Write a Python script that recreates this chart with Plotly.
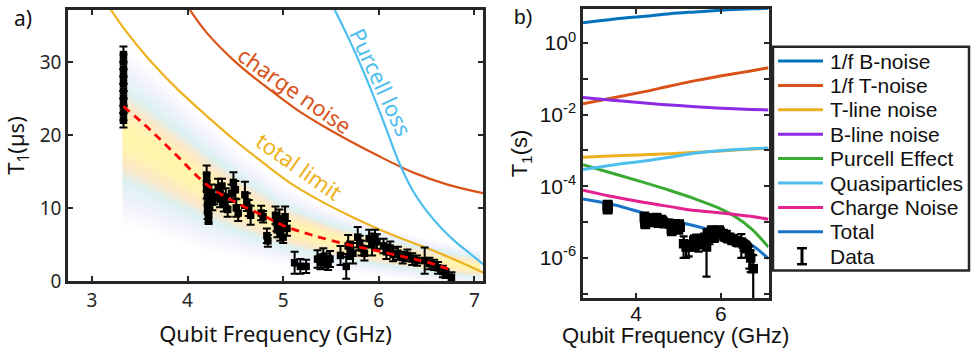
import numpy as np
import plotly.graph_objects as go

W, H = 973, 348

# ---------------- Panel a : measured T1 (microseconds) ----------------
freq_ghz = [
    3.33, 3.33, 3.33, 3.33, 3.33, 3.33, 3.33, 3.33, 3.33, 3.33,
    4.20, 4.20, 4.20, 4.21, 4.21, 4.21, 4.22, 4.22, 4.25, 4.26, 4.28,
    4.32, 4.34, 4.36, 4.38, 4.40, 4.42,
    4.46, 4.48, 4.50, 4.51, 4.53,
    4.60, 4.62, 4.64, 4.66,
    4.77, 4.79, 4.83, 4.84,
    4.92, 4.93, 4.94, 4.96, 4.97, 4.99, 5.00, 5.02, 5.04,
    5.12, 5.18, 5.24,
    5.36, 5.39, 5.42, 5.44, 5.47, 5.49,
    5.60, 5.66, 5.68, 5.70, 5.73,
    5.78, 5.80, 5.82, 5.85,
    5.90, 5.93, 5.96, 5.98,
    6.05, 6.08, 6.12, 6.15,
    6.20, 6.25, 6.30, 6.35, 6.40,
    6.48, 6.53, 6.58, 6.62, 6.67, 6.70, 6.76]
t1_us = [
    22.0, 23.0, 24.0, 25.0, 26.0, 27.0, 28.0, 29.0, 30.0, 31.0,
    14.5, 13.5, 12.5, 11.5, 10.5, 9.5, 9.0, 8.5, 12.0, 10.8, 11.5,
    12.8, 11.2, 13.0, 10.5, 11.5, 9.8,
    12.0, 13.5, 12.5, 10.0, 9.3,
    11.8, 10.8, 10.0, 9.0,
    9.3, 8.8, 6.2, 5.5,
    9.0, 8.0, 7.0, 8.5, 6.5, 7.5, 6.0, 8.8, 7.2,
    2.5, 2.0, 2.0,
    3.0, 2.6, 3.3, 2.8, 2.5, 3.0,
    3.5, 2.0, 4.8, 4.2, 3.8,
    6.0, 5.2, 4.5, 3.8,
    5.8, 5.0, 6.0, 5.4,
    4.8, 4.0, 4.5, 3.6,
    3.8, 3.2, 3.5, 3.0, 2.8,
    2.8, 2.4, 2.2, 1.8, 1.3, 1.0, 0.5]
t1_err_us = [
    1.0, 1.0, 1.0, 1.0, 1.0, 1.0, 1.0, 1.0, 1.0, 1.1,
    1.3, 1.2, 1.2, 1.2, 1.1, 1.0, 1.0, 0.7, 1.2, 1.1, 1.0,
    1.2, 1.1, 1.0, 1.0, 1.2, 1.0,
    1.2, 1.4, 1.2, 1.2, 1.1,
    1.8, 1.2, 1.1, 1.3,
    1.0, 0.8, 1.0, 0.8,
    1.2, 1.2, 1.0, 1.3, 1.0, 1.2, 0.8, 1.4, 1.0,
    1.5, 1.0, 0.9,
    1.2, 1.0, 1.2, 1.0, 1.0, 1.1,
    1.3, 1.7, 1.5, 1.2, 1.4,
    1.4, 1.0, 1.0, 1.0,
    1.2, 1.5, 1.0, 1.0,
    1.0, 1.0, 0.9, 0.9,
    0.9, 0.8, 0.8, 0.8, 0.7,
    1.8, 0.8, 0.7, 0.8, 0.8, 0.6, 0.7]

# fit (red dashed)
fit_freq = [3.33, 3.6, 3.9, 4.2, 4.5, 4.8, 5.0, 5.3, 5.7, 6.0, 6.3, 6.5, 6.76]
fit_t1 = [23.9, 20.8, 17.0, 13.2, 10.8, 8.9, 7.6, 6.3, 4.9, 4.1, 3.2, 2.6, 1.5]

# limits in panel a
total_freq = [3.18, 3.35, 3.58, 3.9, 4.2, 4.5, 4.8, 5.1, 5.4, 5.7, 6.0, 6.3, 6.6, 6.85, 7.1]
total_t1 = [37.5, 34.3, 30.6, 26.2, 22.6, 19.2, 16.1, 13.2, 10.9, 8.9, 7.1, 5.5, 4.0, 2.6, 1.1]
charge_freq = [4.0, 4.2, 4.5, 4.8, 5.15, 5.5, 6.0, 6.37, 6.72, 7.1]
charge_t1 = [37.6, 34.0, 30.0, 26.8, 23.4, 20.6, 17.1, 14.8, 13.2, 12.0]
purcell_freq = [5.50, 5.54, 5.7, 5.89, 6.05, 6.2, 6.35, 6.5, 6.65, 6.8, 6.95, 7.1]
purcell_t1 = [38.2, 37.1, 32.8, 27.1, 21.8, 16.6, 12.5, 9.6, 7.3, 5.4, 3.8, 2.2]

# shaded confidence band (centre and half width)
band_freq = [3.33, 3.6, 3.9, 4.2, 4.5, 5.0, 5.5, 6.0, 6.5, 7.05]
band_center = [20.0, 18.0, 15.5, 13.0, 10.8, 7.6, 5.6, 4.1, 2.9, 1.9]
band_halfwidth = [12.5, 11.5, 10.3, 9.0, 7.5, 5.5, 4.3, 3.5, 3.0, 2.6]

# ---------------- Panel b : noise channel limits (seconds) ----------------
b_freq = [2.75, 3.5, 4.2, 4.8, 5.4, 5.9, 6.3, 6.7, 7.12]
b_names = ["1/f B-noise", "1/f T-noise", "T-line noise", "B-line noise",
           "Purcell Effect", "Quasiparticles", "Charge Noise", "Total"]
b_colors = ["#0072BD", "#D95319", "#EDB120", "#8A2BE2",
            "#3BAA34", "#4DBEEE", "#E3218F", "#1A74C8"]
b_values = [
    [3.7, 4.7, 5.6, 6.6, 7.4, 8.1, 8.6, 9.0, 9.3],
    [0.020, 0.030, 0.044, 0.063, 0.089, 0.115, 0.138, 0.166, 0.204],
    [6.5e-4, 7.1e-4, 7.6e-4, 8.1e-4, 8.9e-4, 9.5e-4, 1.02e-3, 1.08e-3, 1.15e-3],
    [0.030, 0.025, 0.021, 0.0186, 0.0166, 0.0153, 0.0146, 0.0140, 0.0135],
    [4.0e-4, 2.2e-4, 1.26e-4, 7.6e-5, 4.4e-5, 2.6e-5, 1.5e-5, 6.8e-6, 2.0e-6],
    [2.95e-4, 4.0e-4, 5.1e-4, 6.5e-4, 8.5e-4, 9.7e-4, 1.05e-3, 1.11e-3, 1.17e-3],
    [7.8e-5, 5.0e-5, 3.5e-5, 2.7e-5, 2.1e-5, 1.85e-5, 1.65e-5, 1.45e-5, 1.2e-5],
    [4.4e-5, 3.0e-5, 1.75e-5, 1.15e-5, 7.8e-6, 5.5e-6, 4.0e-6, 2.4e-6, 9.5e-7],
]

a_xticks = [3, 4, 5, 6, 7]
a_yticks = [0, 10, 20, 30]
b_xticks = [4, 6]
b_yticks = [1e-7, 1e-6, 1e-5, 1e-4, 1e-3, 1e-2, 1e-1, 1e0]
b_yticktext = ["", "10<sup>-6</sup>", "", "10<sup>-4</sup>", "",
               "10<sup>-2</sup>", "", "10<sup>0</sup>"]
legend_labels = b_names + ["Data"]

AXC = "#262626"
FA = "Noto Sans, Open Sans, sans-serif"
FB = "Liberation Sans, Arial, sans-serif"

fig = go.Figure()

# band as heatmap
hx = np.linspace(band_freq[0], band_freq[-1], 160)
hy = np.linspace(0, 37.2, 180)
cc = np.interp(hx, band_freq, band_center)
hw = np.interp(hx, band_freq, band_halfwidth)
Z = np.clip((hy[:, None] - cc[None, :]) / hw[None, :], -1, 1)
cs = [[0.0, "#ffffff"], [0.12, "#f4f3fd"], [0.25, "#dcf1f2"], [0.33, "#fbe7c9"],
      [0.42, "#fff3b3"], [0.5, "#fff5aa"], [0.58, "#fff3b3"], [0.67, "#fbe7c9"],
      [0.75, "#dcf1f2"], [0.88, "#f4f3fd"], [1.0, "#ffffff"]]
fig.add_trace(go.Heatmap(x=hx, y=hy, z=Z, zmin=-1, zmax=1, colorscale=cs,
                         showscale=False, zsmooth="best", hoverinfo="skip",
                         xaxis="x", yaxis="y"))

fig.add_trace(go.Scatter(x=charge_freq, y=charge_t1, mode="lines", line_shape="spline",
                         line=dict(color="#D95319", width=2.2), xaxis="x", yaxis="y",
                         showlegend=False))
fig.add_trace(go.Scatter(x=purcell_freq, y=purcell_t1, mode="lines", line_shape="spline",
                         line=dict(color="#4DBEEE", width=2.2), xaxis="x", yaxis="y",
                         showlegend=False))
fig.add_trace(go.Scatter(x=total_freq, y=total_t1, mode="lines", line_shape="spline",
                         line=dict(color="#EDB120", width=2.2), xaxis="x", yaxis="y",
                         showlegend=False))
fig.add_trace(go.Scatter(x=freq_ghz, y=t1_us, mode="markers",
                         marker=dict(symbol="square", size=7.5, color="black"),
                         error_y=dict(type="data", array=t1_err_us, color="black",
                                      thickness=2, width=4),
                         xaxis="x", yaxis="y", showlegend=False))
fig.add_trace(go.Scatter(x=fit_freq, y=fit_t1, mode="lines", line_shape="spline",
                         line=dict(color="#FF0000", width=2.8, dash="8px,6px"),
                         xaxis="x", yaxis="y", showlegend=False))

# panel b
for name, col, vals in zip(b_names, b_colors, b_values):
    fig.add_trace(go.Scatter(x=b_freq, y=vals, mode="lines", line_shape="spline",
                             line=dict(color=col, width=3), name=name,
                             xaxis="x2", yaxis="y2", showlegend=False))
t1_s = (np.array(t1_us) * 1e-6).tolist()
err_s = (np.array(t1_err_us) * 1e-6).tolist()
fig.add_trace(go.Scatter(x=freq_ghz, y=t1_s, mode="markers", name="Data",
                         marker=dict(symbol="square", size=9.5, color="black"),
                         error_y=dict(type="data", array=err_s, color="black",
                                      thickness=2.2, width=4),
                         xaxis="x2", yaxis="y2", showlegend=False))

axis_common = dict(showline=True, linewidth=2.5, linecolor=AXC, mirror="ticks",
                   ticks="inside", ticklen=5, tickwidth=1.5, tickcolor=AXC,
                   showgrid=False, zeroline=False, automargin=False)

fig.update_layout(
    width=W, height=H, margin=dict(l=0, r=0, t=0, b=0),
    paper_bgcolor="white", plot_bgcolor="white", showlegend=False,
    xaxis=dict(**axis_common, domain=[68 / W, 483 / W], range=[2.75, 7.09],
               tickvals=a_xticks, anchor="y",
               tickfont=dict(family=FA, size=19, color=AXC),
               title=dict(text="Qubit Frequency (GHz)", standoff=17,
                          font=dict(family=FA, size=22, color="#111"))),
    yaxis=dict(**axis_common, domain=[1 - 281 / H, 1 - 10 / H], range=[0, 37.1],
               tickvals=a_yticks, anchor="x",
               tickfont=dict(family=FA, size=19, color=AXC),
               title=dict(text="T<sub>1</sub>(µs)", standoff=10,
                          font=dict(family=FA, size=22, color="#111"))),
    xaxis2=dict(**axis_common, domain=[583 / W, 768.5 / W], range=[2.75, 7.12],
                tickvals=b_xticks, anchor="y2", ticklabelstandoff=-5,
                tickfont=dict(family=FB, size=21, color="#111"),
                title=dict(text="Qubit Frequency (GHz)", standoff=2,
                           font=dict(family=FB, size=22, color="#111"))),
    yaxis2=dict(**axis_common, domain=[1 - 298 / H, 1 - 9 / H], type="log",
                range=[-7.12, 0.95], tickvals=b_yticks, ticktext=b_yticktext,
                anchor="x2",
                tickfont=dict(family=FB, size=21, color="#111"),
                title=dict(text="T<sub>1</sub>(s)", standoff=6,
                           font=dict(family=FB, size=22, color="#111"))),
)

ann = []
ann.append(dict(text="a)", x=12 / W, y=1 - 18 / H, xref="paper", yref="paper",
                xanchor="left", yanchor="middle", showarrow=False,
                font=dict(family=FA, size=21, color="#111")))
ann.append(dict(text="b)", x=512 / W, y=1 - 17 / H, xref="paper", yref="paper",
                xanchor="left", yanchor="middle", showarrow=False,
                font=dict(family=FB, size=21, color="#111")))
ann.append(dict(text="charge noise", x=5.13, y=26.2, xref="x", yref="y",
                textangle=35, showarrow=False,
                font=dict(family=FA, size=22, color="#D95319")))
ann.append(dict(text="total limit", x=5.17, y=15.7, xref="x", yref="y",
                textangle=35, showarrow=False,
                font=dict(family=FA, size=22, color="#EDB120")))
ann.append(dict(text="Purcell loss", x=6.03, y=27.3, xref="x", yref="y",
                textangle=65, showarrow=False,
                font=dict(family=FA, size=22, color="#4DBEEE")))

# manual legend for panel b
shapes = []
shapes.append(dict(type="rect", xref="paper", yref="paper",
                   x0=773 / W, x1=969 / W, y0=1 - 270.5 / H, y1=1 - 46.7 / H,
                   line=dict(color=AXC, width=2.5), fillcolor="white", layer="above"))
row_y = [61 + 24.4 * i for i in range(len(legend_labels))]
for i, lab in enumerate(legend_labels):
    yy = 1 - row_y[i] / H
    if i < len(b_colors):
        shapes.append(dict(type="line", xref="paper", yref="paper",
                           x0=778 / W, x1=823 / W, y0=yy, y1=yy,
                           line=dict(color=b_colors[i], width=3), layer="above"))
    else:
        top, bot = row_y[i] - 8, row_y[i] + 8
        shapes.append(dict(type="line", xref="paper", yref="paper",
                           x0=802 / W, x1=802 / W, y0=1 - top / H, y1=1 - bot / H,
                           line=dict(color="black", width=3), layer="above"))
        for yv in (top, bot):
            shapes.append(dict(type="line", xref="paper", yref="paper",
                               x0=797 / W, x1=807 / W, y0=1 - yv / H, y1=1 - yv / H,
                               line=dict(color="black", width=2.5), layer="above"))
    ann.append(dict(text=lab, x=828 / W, y=yy, xref="paper", yref="paper",
                    xanchor="left", yanchor="middle", showarrow=False,
                    font=dict(family=FB, size=21, color="#111")))

fig.update_layout(annotations=ann, shapes=shapes)
fig.write_html("out.html")
